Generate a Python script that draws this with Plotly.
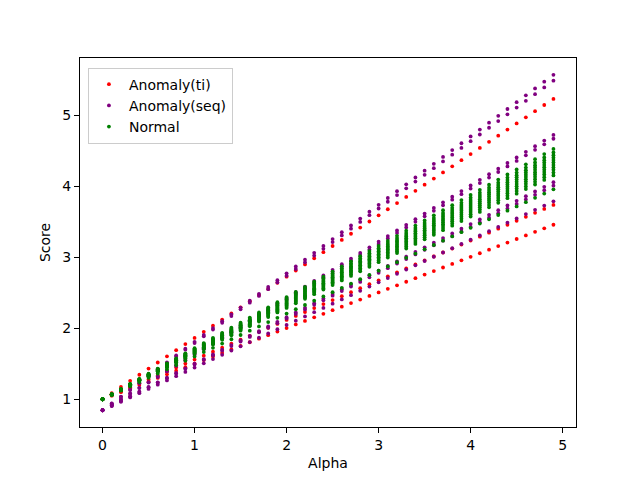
import plotly.graph_objects as go

# alpha grid used on the x axis
alpha = [round(0.1 * i, 1) for i in range(50)]

# each sample line: score at alpha=0 and how fast it rises with alpha
ti_start = [1.0, 1.0, 1.0]
ti_rate = [0.864, 0.559, 0.502]

seq_start = [0.845, 0.845, 0.845, 0.845, 0.845, 0.845, 0.845]
seq_rate = [0.965, 0.948, 0.792, 0.781, 0.656, 0.646, 0.601]

normal_start = [1.0] * 12
normal_rate = [0.720, 0.710, 0.702, 0.695, 0.688, 0.681, 0.674, 0.667, 0.660, 0.652, 0.644, 0.604]


def build(starts, rates):
    xs, ys = [], []
    for b, r in zip(starts, rates):
        for a in alpha:
            xs.append(a)
            ys.append(b + r * a)
    return xs, ys


fig = go.Figure()
groups = [
    ("Anomaly(ti)", ti_start, ti_rate, "red"),
    ("Anomaly(seq)", seq_start, seq_rate, "purple"),
    ("Normal", normal_start, normal_rate, "green"),
]
for name, starts, rates, color in groups:
    xs, ys = build(starts, rates)
    fig.add_trace(go.Scatter(x=xs, y=ys, mode="markers", name=name,
                             marker=dict(color=color, size=3.8, line=dict(width=0))))

axis_style = dict(showgrid=False, zeroline=False, showline=True, linecolor="black",
                  linewidth=1, mirror=True, ticks="outside", ticklen=5, tickcolor="black",
                  tickfont=dict(size=14, color="black"))
fig.update_xaxes(range=[-0.245, 5.145], tickvals=[0, 1, 2, 3, 4, 5],
                 title=dict(text="Alpha", font=dict(size=14, color="black"), standoff=6),
                 **axis_style)
fig.update_yaxes(range=[0.609, 5.81], tickvals=[1, 2, 3, 4, 5],
                 title=dict(text="Score", font=dict(size=14, color="black"), standoff=8),
                 **axis_style)
# page has an 8px body margin, so margins are shifted to keep the axes where they belong
fig.update_layout(
    width=640, height=480,
    margin=dict(l=72, r=72, t=50, b=61),
    plot_bgcolor="white", paper_bgcolor="white",
    font=dict(family="DejaVu Sans", size=14, color="black"),
    legend=dict(x=0.016, y=0.974, xanchor="left", yanchor="top",
                bordercolor="#cccccc", borderwidth=1, bgcolor="white",
                font=dict(size=14), itemwidth=30, tracegroupgap=0),
)
fig.write_html("out.html")
